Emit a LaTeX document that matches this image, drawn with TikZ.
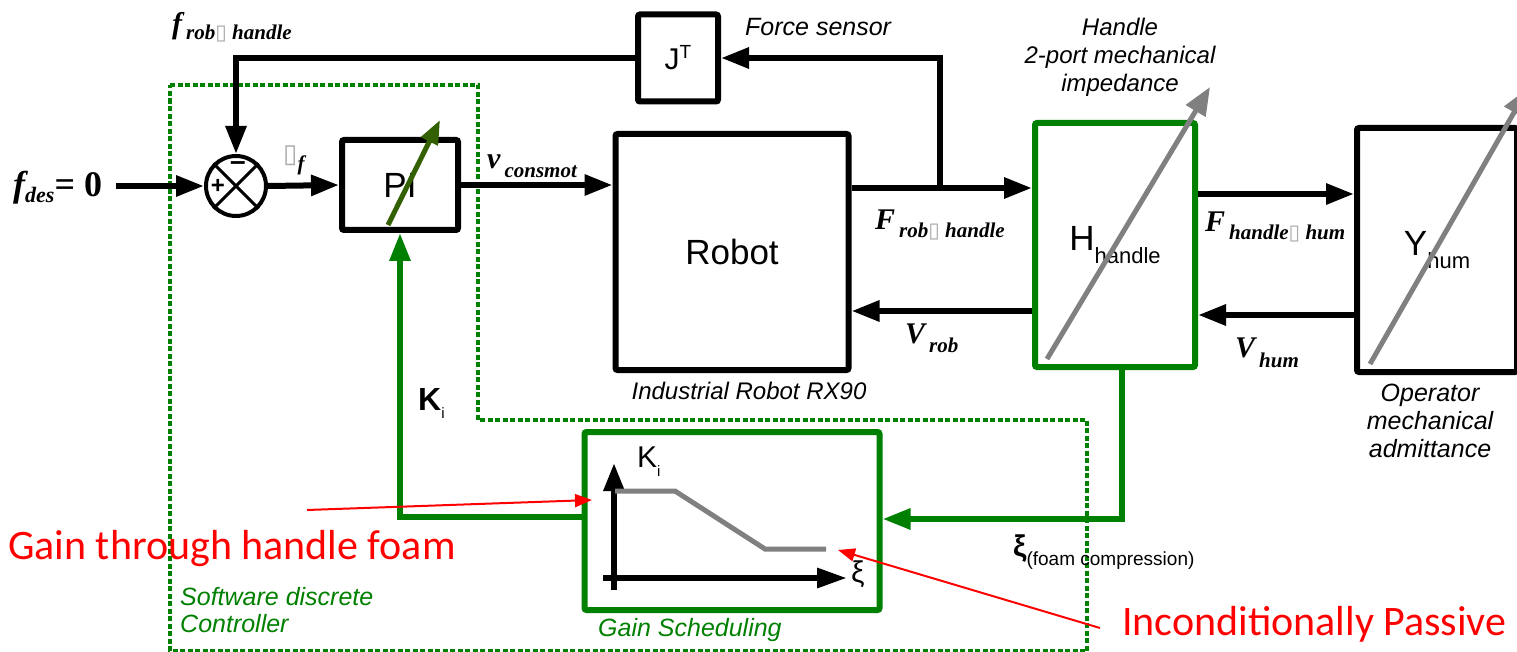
\documentclass[tikz,border=0pt]{standalone}
\usepackage{fontspec}
\setmainfont{Liberation Sans}
\newfontfamily\tnr{Liberation Serif}
\newfontfamily\calfont{Carlito}
\newfontfamily\dvs{DejaVu Sans}
\usetikzlibrary{arrows.meta}
\definecolor{dgreen}{RGB}{0,128,0}
\definecolor{pigreen}{RGB}{51,96,0}
\definecolor{pgray}{RGB}{128,128,128}
\definecolor{mgray}{RGB}{170,170,170}
\newcommand\fsz[1]{\fontsize{#1}{#1}\selectfont}
\newcommand\miss{{\normalfont\dvs\color{mgray}▯}}
\newcommand\blab[3]{{\tnr\bfseries\itshape\fsz{30}#1\hspace{4pt}\raisebox{-#3pt}{\fsz{21}#2}}}
\begin{document}
\begin{tikzpicture}[x=1pt,y=-1pt,
  >={Triangle[length=28pt,width=20pt]},
  blk/.style={draw,line width=6pt,rounded corners=2pt,inner sep=0pt},
  gblk/.style={blk,draw=dgreen},
  conn/.style={line width=6pt},
  gconn/.style={line width=6pt,dgreen},
  lab/.style={inner sep=0pt,anchor=base west},
  note/.style={inner sep=0pt,font=\itshape\fontsize{24}{28}\selectfont,align=center},
  redarr/.style={red,line width=2pt,-{Triangle[length=17pt,width=13pt]}},
  garr/.style={pgray,line width=5pt,-{Triangle[length=28pt,width=22pt]}}]
\useasboundingbox (0,0) rectangle (1517,652);

% software controller boundary
\draw[dgreen,line width=4pt,dash pattern=on 5pt off 2.5pt]
  (170,85) -- (478,85) -- (478,420) -- (1087,420) -- (1087,651) -- (170,651) -- cycle;

% blocks
\node[circle,draw,line width=4pt,minimum size=60pt,inner sep=0pt] (sum) at (236,186) {};
\draw[line width=3pt] (sum.north west) -- (sum.south east) (sum.north east) -- (sum.south west);
\node[inner sep=0pt] (minus) at (238,166) {\bfseries\fsz{28}–};
\node[inner sep=0pt] (plus) at (218,186) {\bfseries\fsz{24}+};

\node[blk,minimum width=116pt,minimum height=90pt] (PI) at (400,185) {\fsz{35}PI};
\node[blk,minimum width=80pt,minimum height=87pt] (JT) at (678,58) {\fsz{30}J\raisebox{11pt}{\fsz{19}T}};
\node[blk,minimum width=233pt,minimum height=236pt] (Robot) at (732,252) {\fsz{35}Robot};
\node[gblk,minimum width=160pt,minimum height=244pt] (H) at (1115,245) {\fsz{35}H\raisebox{-13pt}{\fsz{22}handle}};
\node[blk,minimum width=160pt,minimum height=244pt] (Y) at (1437,250) {\fsz{35}Y\raisebox{-13pt}{\fsz{22}hum}};
\node[gblk,minimum width=295pt,minimum height=178pt] (GS) at (732,521) {};

% variable arrows through blocks
\draw[pigreen,line width=5pt,-{Triangle[length=24pt,width=18pt]}] (PI.south) ++(-12,-8) coordinate (pia) -- (440,120) coordinate (pib);
\draw[garr] (1047,359) coordinate (ha) -- (1210,87) coordinate (hb);
\draw[garr] (1370,364) coordinate (ya) -- (1528,88) coordinate (yb);

% connectors
\coordinate (in) at (116,186);
\draw[conn,->] (in) -- (sum.west);
\draw[conn,->] (sum.east) -- (PI.west);
\draw[conn,->] (PI.east) -- (PI.east -| Robot.west);
\coordinate (fr) at (940,188);
\draw[conn,->] (Robot.east |- fr) -- (H.west |- fr);
\draw[conn,->] (fr) |- (JT.east);
\draw[conn,->] (JT.west) -| (sum.north);
\coordinate (vr) at (940,311);
\draw[conn,->] (H.west |- vr) -- (Robot.east |- vr);
\coordinate (fh) at (1276,194);
\draw[conn,->] (H.east |- fh) -- (Y.west |- fh);
\coordinate (vh) at (1276,315);
\draw[conn,->] (Y.west |- vh) -- (H.east |- vh);
\coordinate (xi) at (1122,519);
\draw[gconn,->] (H.south -| xi) |- (GS.east |- xi);
\coordinate (ki) at (500,517);
\draw[gconn,->] (GS.west |- ki) -| (PI.south);

% gain scheduling graph
\coordinate (ax0) at (614,590);
\coordinate (ax1) at (614,463);
\coordinate (ay0) at (603,578);
\coordinate (ay1) at (847,578);
\draw[line width=6pt,->] (ax0) -- (ax1);
\draw[line width=6pt,-{Triangle[length=30pt,width=19pt]}] (ay0) -- (ay1);
\draw[pgray,line width=5pt] (615,491) -- (675,491) -- (765,549) -- (826,549);
\node[lab] (gki) at (637,467) {\fsz{30}K\raisebox{-9pt}{\fsz{15}i}};
\node[lab] (gxi) at (851,582) {\fsz{30}ξ};

% labels
\node[lab] (fdes) at (13,197) {{\tnr\bfseries\itshape\fsz{36}f}\raisebox{-6pt}{\tnr\bfseries\itshape\fsz{22}des}{\tnr\bfseries\fsz{36}= 0}};
\node[lab] (ftop) at (172,34) {\blab{f}{rob\miss\ handle}{6}};
\node[lab] (eps) at (283,163) {{\fsz{26}\miss}\raisebox{-8pt}{\tnr\bfseries\itshape\fsz{21}f}};
\node[lab] (vcons) at (487,169) {\blab{v}{consmot}{9}};
\node[lab] (Frob) at (875,230) {\blab{F}{rob\miss\ handle}{8}};
\node[lab] (Fhum) at (1205,232) {\blab{F}{handle\miss\ hum}{8}};
\node[lab] (Vrob) at (905,343) {\blab{V}{rob}{9}};
\node[lab] (Vhum) at (1235,357) {\blab{V}{hum}{10}};
\node[lab] (pki) at (418,410) {{\bfseries\fsz{32}K}\raisebox{-8pt}{\fsz{15}i}};
\node[lab] (fxi) at (1013,556) {{\bfseries\fsz{30}ξ}\raisebox{-9pt}{\fsz{19}(foam compression)}};

\node[lab,font=\itshape\fsz{25}] (force) at (745,36) {Force sensor};
\node[note,anchor=north] (handle) at (1120,18) {Handle\\2-port mechanical\\impedance};
\node[inner sep=0pt,anchor=base,font=\itshape\fsz{24}] (rx90) at (749,399) {Industrial Robot RX90};
\node[note,anchor=north,font=\itshape\fontsize{25}{28}\selectfont] (oper) at (1430,384) {Operator\\mechanical\\admittance};
\node[note,anchor=north west,align=left,dgreen,font=\itshape\fontsize{25}{27}\selectfont] (soft) at (180,587) {Software discrete\\Controller};
\node[lab,dgreen,font=\itshape\fsz{25}] (gsl) at (598,636) {Gain Scheduling};

% red annotations
\node[lab,red,font=\calfont\fsz{42}] (red1) at (8,559) {Gain through handle foam};
\node[lab,red,font=\calfont\fsz{42}] (red2) at (1122,635) {Inconditionally Passive};
\coordinate (r1a) at (307,510);
\coordinate (r1b) at (592,500);
\draw[redarr] (r1a) -- (r1b);
\coordinate (r2a) at (1100,628);
\coordinate (r2b) at (838,550);
\draw[redarr] (r2a) -- (r2b);
\end{tikzpicture}
\end{document}
